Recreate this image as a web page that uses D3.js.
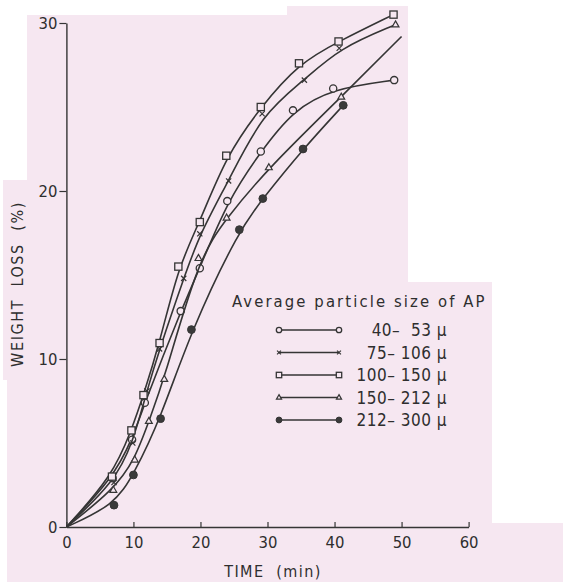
<!DOCTYPE html>
<html>
<head>
<meta charset="utf-8">
<script src="https://cdn.jsdelivr.net/npm/d3@7"></script>
<style>
  html, body { margin: 0; padding: 0; background: #ffffff; }
  svg { display: block; }
  text { font-family: "DejaVu Sans Condensed", "Liberation Sans Narrow", "DejaVu Sans", sans-serif; fill: #2e2e2e; }
</style>
</head>
<body>
<svg id="chart" width="563" height="582"></svg>
<script>
// ---------------- data ----------------
const xTicks = [0, 10, 20, 30, 40, 50, 60];
const yTicks = [0, 10, 20, 30];
const seriesNames = ["40\u2013  53 \u03BC", "75\u2013 106 \u03BC", "100\u2013 150 \u03BC", "150\u2013 212 \u03BC", "212\u2013 300 \u03BC"];
const seriesMarkers = ["circle", "cross", "square", "triangle", "dot"];

// time (min), weight loss (%)
const size40_53 = [[0,0],[6.9,2.9],[9.8,5.2],[11.7,7.4],[17.05,12.85],[19.9,15.4],[24.0,19.4],[29.0,22.35],[33.8,24.8],[39.8,26.1],[48.9,26.6]];
const size75_106 = [[0,0],[7.1,2.65],[9.9,5.0],[12.0,8.1],[13.9,10.6],[17.5,14.8],[19.9,17.45],[24.2,20.6],[29.2,24.6],[35.5,26.6],[40.7,28.5],[49.1,29.9]];
const size100_150 = [[0,0],[6.8,3.0],[9.7,5.75],[11.5,7.85],[13.9,10.95],[16.7,15.5],[19.9,18.15],[23.85,22.1],[29.0,25.0],[34.7,27.6],[40.6,28.9],[48.8,30.5]];
const size150_212 = [[0,0],[7.0,2.2],[10.2,4.0],[12.3,6.3],[14.6,8.8],[19.7,16.0],[23.9,18.4],[30.2,21.4],[41.0,25.6],[50.0,29.2]];
const size212_300 = [[0,0],[7.1,1.3],[10.0,3.1],[14.05,6.45],[18.65,11.75],[25.8,17.7],[29.3,19.55],[35.3,22.5],[41.3,25.1]];
// marker symbol used at the last point of each curve ("none" = plain line end)
const endMarkers = ["circle", "triangle", "square", "none", "dot"];

const allSeries = [size40_53, size75_106, size100_150, size150_212, size212_300];

// ---------------- drawing ----------------
const svg = d3.select("#chart");
const bg = "#f6e7f1";
const ink = "#353535";

// scanned-paper background patches
const patches = [
  [27, 15, 260, 567], [287, 6, 121, 517], [407, 282, 85, 241],
  [7, 523, 556, 59], [3, 180, 24, 200], [7, 380, 20, 143]
];
svg.selectAll("rect.bg").data(patches).join("rect")
  .attr("class", "bg")
  .attr("x", d => d[0]).attr("y", d => d[1])
  .attr("width", d => d[2]).attr("height", d => d[3])
  .attr("fill", bg);

const x = d3.scaleLinear().domain([0, 60]).range([66.4, 468.6]);
const y = d3.scaleLinear().domain([0, 30]).range([527, 23]);

// axes
const xAxis = d3.axisBottom(x).tickValues(xTicks).tickSizeInner(-5).tickSizeOuter(0).tickPadding(9);
const gx = svg.append("g").attr("transform", `translate(0,${y(0)})`).call(xAxis);
const yAxis = d3.axisLeft(y).tickValues(yTicks).tickSizeInner(7).tickSizeOuter(0).tickPadding(2);
const gy = svg.append("g").attr("transform", `translate(${x(0)},0)`).call(yAxis);
[gx, gy].forEach(g => {
  g.select(".domain").attr("stroke", ink).attr("stroke-width", 1.4);
  g.selectAll(".tick line").attr("stroke", ink).attr("stroke-width", 1.2);
  g.selectAll(".tick text").attr("font-size", 16.5).attr("fill", "#2e2e2e")
    .style("font-family", '"DejaVu Sans Condensed", "Liberation Sans Narrow", "DejaVu Sans", sans-serif');
});

// axis titles
svg.append("text").attr("x", 273).attr("y", 577).attr("text-anchor", "middle")
  .attr("font-size", 16).attr("letter-spacing", 1.4).style("white-space", "pre")
  .text("TIME  (min)");
svg.append("text").attr("transform", "translate(23,284) rotate(-90)").attr("text-anchor", "middle")
  .attr("font-size", 16).attr("letter-spacing", 1.6).style("white-space", "pre")
  .text("WEIGHT  LOSS  (%)");

// markers
function drawMarker(g, type, cx, cy, s) {
  if (type === "circle") {
    g.append("circle").attr("cx", cx).attr("cy", cy).attr("r", 3.6 * s)
      .attr("fill", bg).attr("stroke", ink).attr("stroke-width", 1.3);
  } else if (type === "square") {
    g.append("rect").attr("x", cx - 3.6 * s).attr("y", cy - 3.6 * s)
      .attr("width", 7.2 * s).attr("height", 7.2 * s)
      .attr("fill", bg).attr("stroke", ink).attr("stroke-width", 1.3);
  } else if (type === "triangle") {
    const r = 3.8 * s;
    g.append("path").attr("d", `M${cx},${cy - r}L${cx + r * 0.9},${cy + r * 0.6}L${cx - r * 0.9},${cy + r * 0.6}Z`)
      .attr("fill", bg).attr("stroke", ink).attr("stroke-width", 1.2);
  } else if (type === "cross") {
    const r = 2.6 * s;
    g.append("path").attr("d", `M${cx - r},${cy - r}L${cx + r},${cy + r}M${cx + r},${cy - r}L${cx - r},${cy + r}`)
      .attr("stroke", ink).attr("stroke-width", 1.2).attr("fill", "none");
  } else if (type === "dot") {
    g.append("circle").attr("cx", cx).attr("cy", cy).attr("r", 3.9 * s)
      .attr("fill", "#3a3a3a").attr("stroke", ink).attr("stroke-width", 1);
  }
}

const line = d3.line().x(d => x(d[0])).y(d => y(d[1])).curve(d3.curveBasis);

allSeries.forEach((data, i) => {
  const g = svg.append("g");
  g.append("path").datum(data).attr("d", line)
    .attr("fill", "none").attr("stroke", ink).attr("stroke-width", 1.6);
  data.forEach((d, j) => {
    if (d[0] === 0) return;
    const type = j === data.length - 1 ? endMarkers[i] : seriesMarkers[i];
    if (type !== "none") drawMarker(g, type, x(d[0]), y(d[1]), 1);
  });
});

// legend
svg.append("text").attr("x", 232).attr("y", 307).attr("font-size", 16.5)
  .attr("letter-spacing", 2.1).text("Average particle size of AP");
const legend = svg.append("g");
seriesNames.forEach((name, i) => {
  const ly = 330 + i * 22.5;
  legend.append("line").attr("x1", 279).attr("x2", 339).attr("y1", ly).attr("y2", ly)
    .attr("stroke", ink).attr("stroke-width", 1.5);
  drawMarker(legend, seriesMarkers[i], 279, ly, 0.75);
  drawMarker(legend, seriesMarkers[i], 339, ly, 0.75);
  legend.append("text").attr("x", 447).attr("y", ly + 6).attr("text-anchor", "end")
    .attr("font-size", 17).attr("letter-spacing", 0.5).style("white-space", "pre").text(name);
});
</script>
</body>
</html>
